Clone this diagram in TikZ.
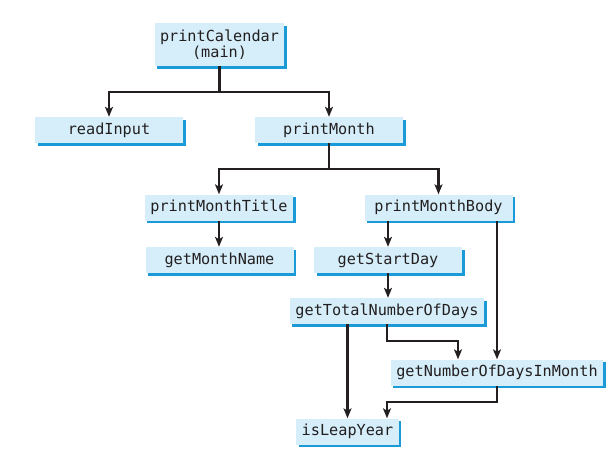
\documentclass[tikz,border=0pt]{standalone}
\usepackage{fontspec}
\setmonofont{DejaVu Sans Mono}
\usetikzlibrary{arrows.meta,shadows}
\definecolor{boxfill}{HTML}{D5EEFA}
\definecolor{boxshade}{HTML}{1A9BD7}
\definecolor{inkline}{HTML}{231F20}
\begin{document}
\begin{tikzpicture}[
x=1pt, y=-1pt,
callbox/.style={fill=boxfill, align=center, inner xsep=5.5pt, inner ysep=3pt,
  minimum width=148pt, minimum height=26pt, text=inkline,
  font=\ttfamily\fontsize{15.2}{15.5}\selectfont,
  drop shadow={shadow xshift=2.5pt, shadow yshift=-2.5pt, fill=boxshade, opacity=1}},
arrow/.style={-{Stealth[length=10pt,width=8pt,inset=2.5pt]}, line width=2.2pt, draw=inkline}
]
\useasboundingbox (0,0) rectangle (610,463);
\node[callbox, minimum width=0pt, minimum height=43pt] (cal) at (219.5,44.5) {printCalendar\\(main)};
\node[callbox] (read) at (109,130) {readInput};
\node[callbox] (month) at (329,130) {printMonth};
\node[callbox] (title) at (219,207.5) {printMonthTitle};
\node[callbox] (body) at (438.5,207.5) {printMonthBody};
\node[callbox] (name) at (219.5,260) {getMonthName};
\node[callbox] (start) at (388,260) {getStartDay};
\node[callbox] (total) at (387,311) {getTotalNumberOfDays};
\node[callbox] (days) at (497,372.5) {getNumberOfDaysInMonth};
\node[callbox, minimum width=0pt] (leap) at (347.5,431.5) {isLeapYear};
% calls
\draw[arrow] (cal) -- (cal |- 0,92) -| (read);
\draw[arrow] (cal) -- (cal |- 0,92) -| (month);
\draw[arrow] (month) -- (month |- 0,169) -| (title);
\draw[arrow] (month) -- (month |- 0,169) -| (body);
\draw[arrow] (title) -- (title |- name.north);
\draw[arrow] (body.south -| start) -- (start);
\draw[arrow] (body.south -| days) -- (days);
\draw[arrow] (start.south) -- (start.south |- total.north);
\draw[arrow] (total.south) -- (total.south |- 0,341) -| ([xshift=-39pt]days.north);
\draw[arrow] (total.south -| leap) -- (leap);
\draw[arrow] (days) -- (days |- 0,402) -| ([xshift=39.5pt]leap.north);
\end{tikzpicture}
\end{document}
